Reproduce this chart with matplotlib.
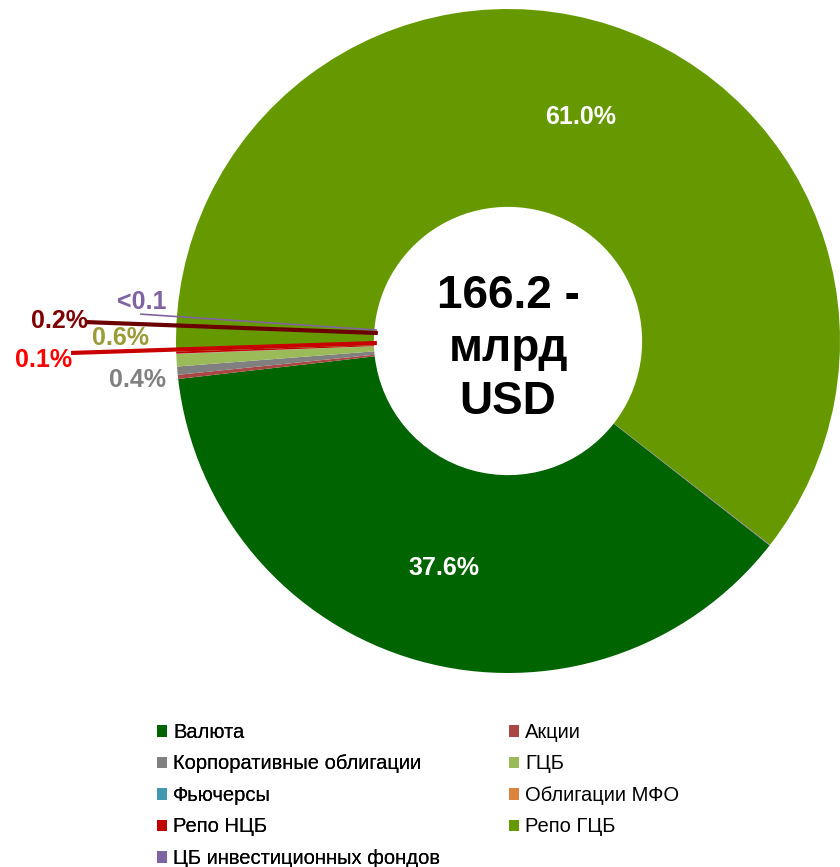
import numpy as np
import matplotlib.pyplot as plt

plt.rcParams['font.family'] = ['Liberation Sans', 'DejaVu Sans']

# data
categories = ['Валюта', 'Акции', 'Корпоративные облигации', 'ГЦБ', 'Фьючерсы',
              'Облигации МФО', 'Репо НЦБ', 'Репо ГЦБ', 'ЦБ инвестиционных фондов']
shares = [37.6, 0.2, 0.4, 0.6, 0.01, 0.01, 0.1, 61.0, 0.03]
colors = ['#006400', '#AA4643', '#808080', '#9BBB59', '#4198AF',
          '#DB843D', '#C00000', '#669900', '#8064A2']
center_text = '166.2 -\nмлрд\nUSD'

# labels drawn inside the ring
inner_labels = {0: '37.6%', 7: '61.0%'}
# outer labels: text, text colour, line colour, text pos, leader start, leader end, width
outer_labels = [
    ('<0.1', '#8064A2', '#8064A2', (-1.104, 0.118), (-1.108, 0.081), (-0.395, 0.033), 1.2),
    ('0.2%', '#7F0000', '#6A0000', (-1.352, 0.060), (-1.271, 0.057), (-0.392, 0.024), 3.0),
    ('0.6%', '#9B9B37', None, (-1.166, 0.009), None, None, 0),
    ('0.1%', '#FF0000', '#C80000', (-1.398, -0.057), (-1.316, -0.036), (-0.395, -0.006), 3.0),
    ('0.4%', '#808080', None, (-1.117, -0.117), None, None, 0),
]

W, H = 840, 867
cx, cy, R = 508, 341, 332

fig = plt.figure(figsize=(W / 100, H / 100), dpi=100)
ax = fig.add_axes([(cx - R) / W, (H - cy - R) / H, 2 * R / W, 2 * R / H])
ax.set_axis_off()

wedges, _ = ax.pie(shares, colors=colors, startangle=322, counterclock=False,
                   radius=1.0, wedgeprops=dict(width=0.596, linewidth=0),
                   frame=False)
ax.set_xlim(-1, 1)
ax.set_ylim(-1, 1)

for i, txt in inner_labels.items():
    w = wedges[i]
    mid = np.deg2rad((w.theta1 + w.theta2) / 2)
    ax.text(0.71 * np.cos(mid), 0.71 * np.sin(mid), txt, color='white',
            fontsize=18, fontweight='bold', ha='center', va='center')

for txt, col, lcol, tpos, lstart, lend, lw in outer_labels:
    if lstart is not None:
        ax.plot([lstart[0], lend[0]], [lstart[1], lend[1]], color=lcol, lw=lw,
                solid_capstyle='butt', clip_on=False, zorder=5)
    ax.text(tpos[0], tpos[1], txt, color=col, fontsize=18, fontweight='bold',
            ha='center', va='center', zorder=6, clip_on=False)

ax.text(0, -0.025, center_text, fontsize=33, fontweight='bold', ha='center',
        va='center', linespacing=1.27)

# legend, two columns laid out row-wise
col1 = [0, 2, 4, 6, 8]
col2 = [1, 3, 5, 7]
leg_kw = dict(frameon=False, fontsize=14.5, handlelength=0.5, handleheight=0.5,
              handletextpad=0.3, labelspacing=0.62, borderpad=0, borderaxespad=0,
              loc='upper left')
leg1 = fig.legend([wedges[i] for i in col1], [categories[i] for i in col1],
                  bbox_to_anchor=(157 / W, 1 - 723 / H), **leg_kw)
fig.add_artist(leg1)
fig.legend([wedges[i] for i in col2], [categories[i] for i in col2],
           bbox_to_anchor=(509 / W, 1 - 723 / H), **leg_kw)

fig.savefig('out.png', dpi=100)
